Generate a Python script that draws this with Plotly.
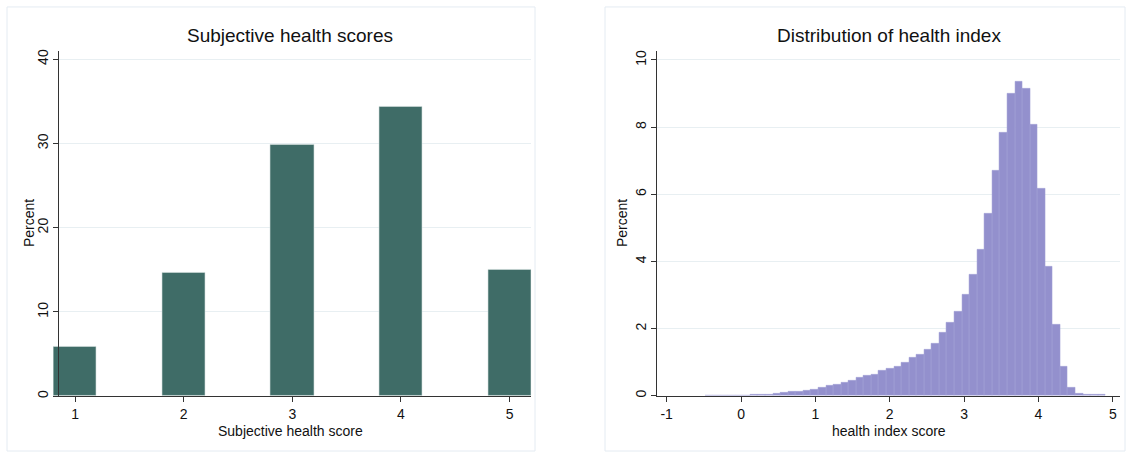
import plotly.graph_objects as go

# ---- Subjective health scores (percent of respondents per score) ----
score_categories = [1, 2, 3, 4, 5]
score_percent = [5.9, 14.7, 29.9, 34.4, 15.0]

# ---- Health index histogram (percent per bin) ----
hist_start = -0.487
hist_bin_width = 0.1017
hist_percent = [
    0.02, 0.02, 0.02, 0.02, 0.02, 0.02, 0.03, 0.04, 0.05, 0.07,
    0.09, 0.12, 0.14, 0.16, 0.19, 0.25, 0.30, 0.34, 0.39, 0.45,
    0.53, 0.59, 0.63, 0.74, 0.80, 0.86, 0.98, 1.15, 1.24, 1.37,
    1.57, 1.87, 2.17, 2.51, 3.01, 3.60, 4.34, 5.43, 6.71, 7.84,
    9.00, 9.37, 9.16, 8.08, 6.16, 3.85, 2.13, 0.88, 0.25, 0.08,
    0.04, 0.03, 0.03,
]
hist_centers = [hist_start + hist_bin_width * (k + 0.5) for k in range(len(hist_percent))]

left_ticks = [0, 10, 20, 30, 40]
right_yticks = [0, 2, 4, 6, 8, 10]
right_xticks = [-1, 0, 1, 2, 3, 4, 5]
right_xtick_labels = ["-1", "0", "1", "2", "3", "4", "5"]

W, H = 1127, 455
FONT = "Liberation Sans, Arial, Helvetica, sans-serif"
AXIS_COL = "#333333"
GRID_COL = "#e8eff2"
TEAL = "#3f6c67"
LAVENDER = "#9390cd"


def px(x):
    return x / W


def py(y):
    return 1 - y / H


fig = go.Figure()

fig.add_trace(go.Bar(
    x=score_categories, y=score_percent, width=0.4,
    marker=dict(color=TEAL, line=dict(color="#d5dfde", width=0.6)),
    xaxis="x", yaxis="y", showlegend=False,
))

fig.add_trace(go.Bar(
    x=hist_centers, y=hist_percent, width=hist_bin_width,
    marker=dict(color=LAVENDER, line=dict(color="#a3a0d6", width=0.5)),
    xaxis="x2", yaxis="y2", showlegend=False,
))

tickfont = dict(family=FONT, size=14, color="#111111")
common_axis = dict(
    showline=True, linecolor=AXIS_COL, linewidth=1,
    ticks="outside", ticklen=5, tickcolor=AXIS_COL, tickwidth=1,
    tickfont=tickfont, zeroline=False,
)

fig.update_layout(
    width=W, height=H,
    margin=dict(l=0, r=0, t=0, b=0),
    paper_bgcolor="white", plot_bgcolor="white",
    bargap=0,
    xaxis=dict(
        domain=[px(53.3), px(531.3)], range=[0.8, 5.2],
        tickvals=score_categories, showgrid=False, anchor="y",
        **common_axis,
    ),
    yaxis=dict(
        domain=[py(397.7), py(49.2)], range=[0, 41],
        tickvals=left_ticks, tickangle=-90,
        showgrid=True, gridcolor=GRID_COL, gridwidth=1,
        anchor="free", position=px(58.3),
        **common_axis,
    ),
    xaxis2=dict(
        domain=[px(657.3), px(1120)], range=[-1.126, 5.097],
        tickvals=right_xticks, ticktext=right_xtick_labels,
        showgrid=False, anchor="y2",
        **common_axis,
    ),
    yaxis2=dict(
        domain=[py(397.3), py(49)], range=[0, 10.28],
        tickvals=right_yticks, tickangle=-90,
        showgrid=True, gridcolor=GRID_COL, gridwidth=1,
        anchor="x2",
        **common_axis,
    ),
)

# faint frames around the two panels
for x0, x1 in [(7, 535), (605, 1125)]:
    fig.add_shape(type="rect", xref="paper", yref="paper",
                  x0=px(x0), x1=px(x1), y0=py(453), y1=py(5),
                  line=dict(color="#e4ebf2", width=1), fillcolor="rgba(0,0,0,0)",
                  layer="below")

texts = [
    ("Subjective health scores", 290, 34, 19, 0),
    ("Percent", 29, 223, 14, -90),
    ("Subjective health score", 290, 433, 14, 0),
    ("Distribution of health index", 889, 34, 19, 0),
    ("Percent", 622, 223, 14, -90),
    ("health index score", 889, 433, 14, 0),
]
for txt, x, y, size, ang in texts:
    fig.add_annotation(
        text=txt, x=px(x), y=py(y), xref="paper", yref="paper",
        showarrow=False, textangle=ang, xanchor="center", yanchor="middle",
        font=dict(family=FONT, size=size, color="#111111"),
    )

fig.write_html("out.html")
